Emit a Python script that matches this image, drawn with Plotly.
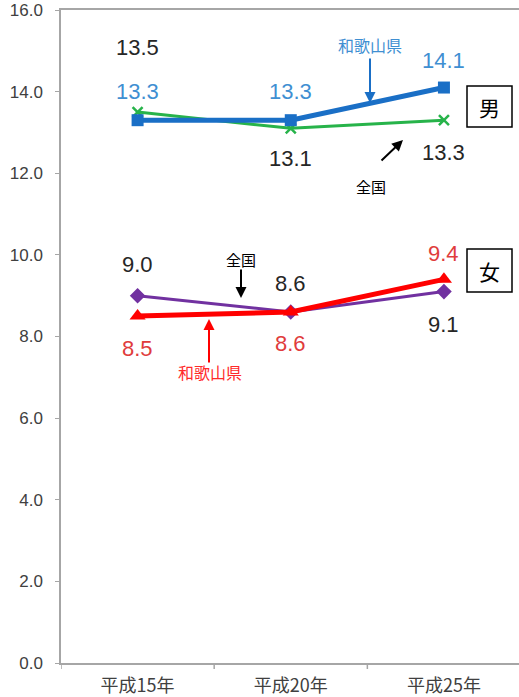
import plotly.graph_objects as go

years = ["平成15年", "平成20年", "平成25年"]
male_national = [13.5, 13.1, 13.3]
male_wakayama = [13.3, 13.3, 14.1]
female_national = [9.0, 8.6, 9.1]
female_wakayama = [8.5, 8.6, 9.4]

# the page's default body margin is removed (see write_html), so the figure fills the window
OFF = 0
W, H = 519, 697
L, R, T, B = 61, 0, 10, 34
XR = [-0.5, 2.49]

NUM_FONT = "Liberation Sans, Arial, sans-serif"
CJK_FONT = "Noto Sans CJK JP, sans-serif"

C_BLUE = "#1a6fc6"
C_BLUE_T = "#3f8fd2"
C_GREEN = "#27b34a"
C_PURPLE = "#7131a0"
C_RED = "#ff0000"
C_RED_T = "#e03c3c"

fig = go.Figure()
fig.add_trace(go.Scatter(x=[0, 1, 2], y=male_national, mode="lines+markers",
                         line=dict(color=C_GREEN, width=3),
                         marker=dict(symbol="x-thin", size=10, line=dict(color=C_GREEN, width=2.5))))
fig.add_trace(go.Scatter(x=[0, 1, 2], y=male_wakayama, mode="lines+markers",
                         line=dict(color=C_BLUE, width=5),
                         marker=dict(symbol="square", size=12, color=C_BLUE)))
fig.add_trace(go.Scatter(x=[0, 1, 2], y=female_national, mode="lines+markers",
                         line=dict(color=C_PURPLE, width=3),
                         marker=dict(symbol="diamond", size=12, color=C_PURPLE)))
fig.add_trace(go.Scatter(x=[0, 1, 2], y=female_wakayama, mode="lines+markers",
                         line=dict(color=C_RED, width=5),
                         marker=dict(symbol="triangle-up", size=14, color=C_RED)))

# data labels: (series, color, pixel offsets)
label_specs = [
    (male_national, "#262626", [-65, 30, 32]),
    (male_wakayama, C_BLUE_T, [-29, -29, -27]),
    (female_national, "#262626", [-31, -29, 33]),
    (female_wakayama, C_RED_T, [32, 31, -26]),
]
annotations = []
for vals, col, offs in label_specs:
    for i, v in enumerate(vals):
        annotations.append(dict(x=i, y=v, xref="x", yref="y", text=f"{v:.1f}",
                                showarrow=False, yshift=-offs[i],
                                xanchor="center", yanchor="middle",
                                font=dict(family=NUM_FONT, size=22, color=col)))

pw = W - L - R
ph = H - T - B


def px(x):
    return (x - OFF - L) / pw


def py(y):
    return (H - B - (y - OFF)) / ph


# text notes
notes = [
    ("和歌山県", 370, 45, C_BLUE_T, 16),
    ("全国", 371, 186, "#000000", 15),
    ("全国", 241, 259, "#000000", 15),
    ("和歌山県", 210, 372, "#ff2a2a", 16),
]
for t, x, y, c, s in notes:
    annotations.append(dict(x=px(x), y=py(y), xref="paper", yref="paper", text=t,
                            showarrow=False, xanchor="center", yanchor="middle",
                            font=dict(family=CJK_FONT, size=s, color=c)))

# arrows: head (x,y), tail (x,y)
arrows = [
    ((370, 103), (370, 57), C_BLUE),
    ((403, 140), (380, 162), "#000000"),
    ((241, 298), (241, 268), "#000000"),
    ((209, 319), (209, 364), C_RED),
]
for (hx, hy), (tx, ty), c in arrows:
    annotations.append(dict(x=px(hx), y=py(hy), xref="paper", yref="paper", text="",
                            showarrow=True, arrowhead=2, arrowsize=1.1, arrowwidth=2,
                            arrowcolor=c, ax=tx - hx, ay=ty - hy, standoff=0))

# gender boxes
shapes = []
for t, y0, y1 in [("男", 86, 127), ("女", 249, 292)]:
    shapes.append(dict(type="rect", xref="paper", yref="paper",
                       x0=px(467), x1=px(512), y0=py(y1), y1=py(y0),
                       line=dict(color="#000000", width=1.5), fillcolor="white"))
    annotations.append(dict(x=px(489.5), y=py((y0 + y1) / 2), xref="paper", yref="paper",
                            text=t, showarrow=False, xanchor="center", yanchor="middle",
                            font=dict(family=CJK_FONT, size=21, color="#000000")))

fig.update_layout(
    width=W, height=H, margin=dict(l=L, r=R, t=T, b=B, pad=0, autoexpand=False),
    paper_bgcolor="white", plot_bgcolor="white", showlegend=False,
    annotations=annotations, shapes=shapes,
    xaxis=dict(range=XR, tickmode="array", tickvals=[0, 1, 2], ticktext=years,
               showgrid=False, zeroline=False, showline=True, linecolor="#a6a6a6",
               linewidth=1.5, mirror=True, ticks="", automargin=False,
               ticklabelstandoff=6, ticklabeloverflow="allow",
               tickfont=dict(family=CJK_FONT, size=18, color="#404040")),
    yaxis=dict(range=[0, 16], dtick=2, tickformat=".1f", showgrid=False, zeroline=False,
               showline=True, linecolor="#a6a6a6", linewidth=1.5, ticks="outside",
               ticklen=4, tickcolor="#a6a6a6", automargin=False, mirror=False,
               ticklabelstandoff=9, ticklabeloverflow="allow",
               tickfont=dict(family=NUM_FONT, size=17, color="#404040")),
)

# x tick marks at category boundaries
for b in [-0.5, 0.5, 1.5]:
    fig.add_shape(type="line", xref="x", yref="paper", x0=b, x1=b, y0=0, y1=-6 / ph,
                  line=dict(color="#a6a6a6", width=1.5))

fig.write_html("out.html", config={"displayModeBar": False},
               post_script="document.body.style.margin='0';document.body.style.overflow='hidden';")
